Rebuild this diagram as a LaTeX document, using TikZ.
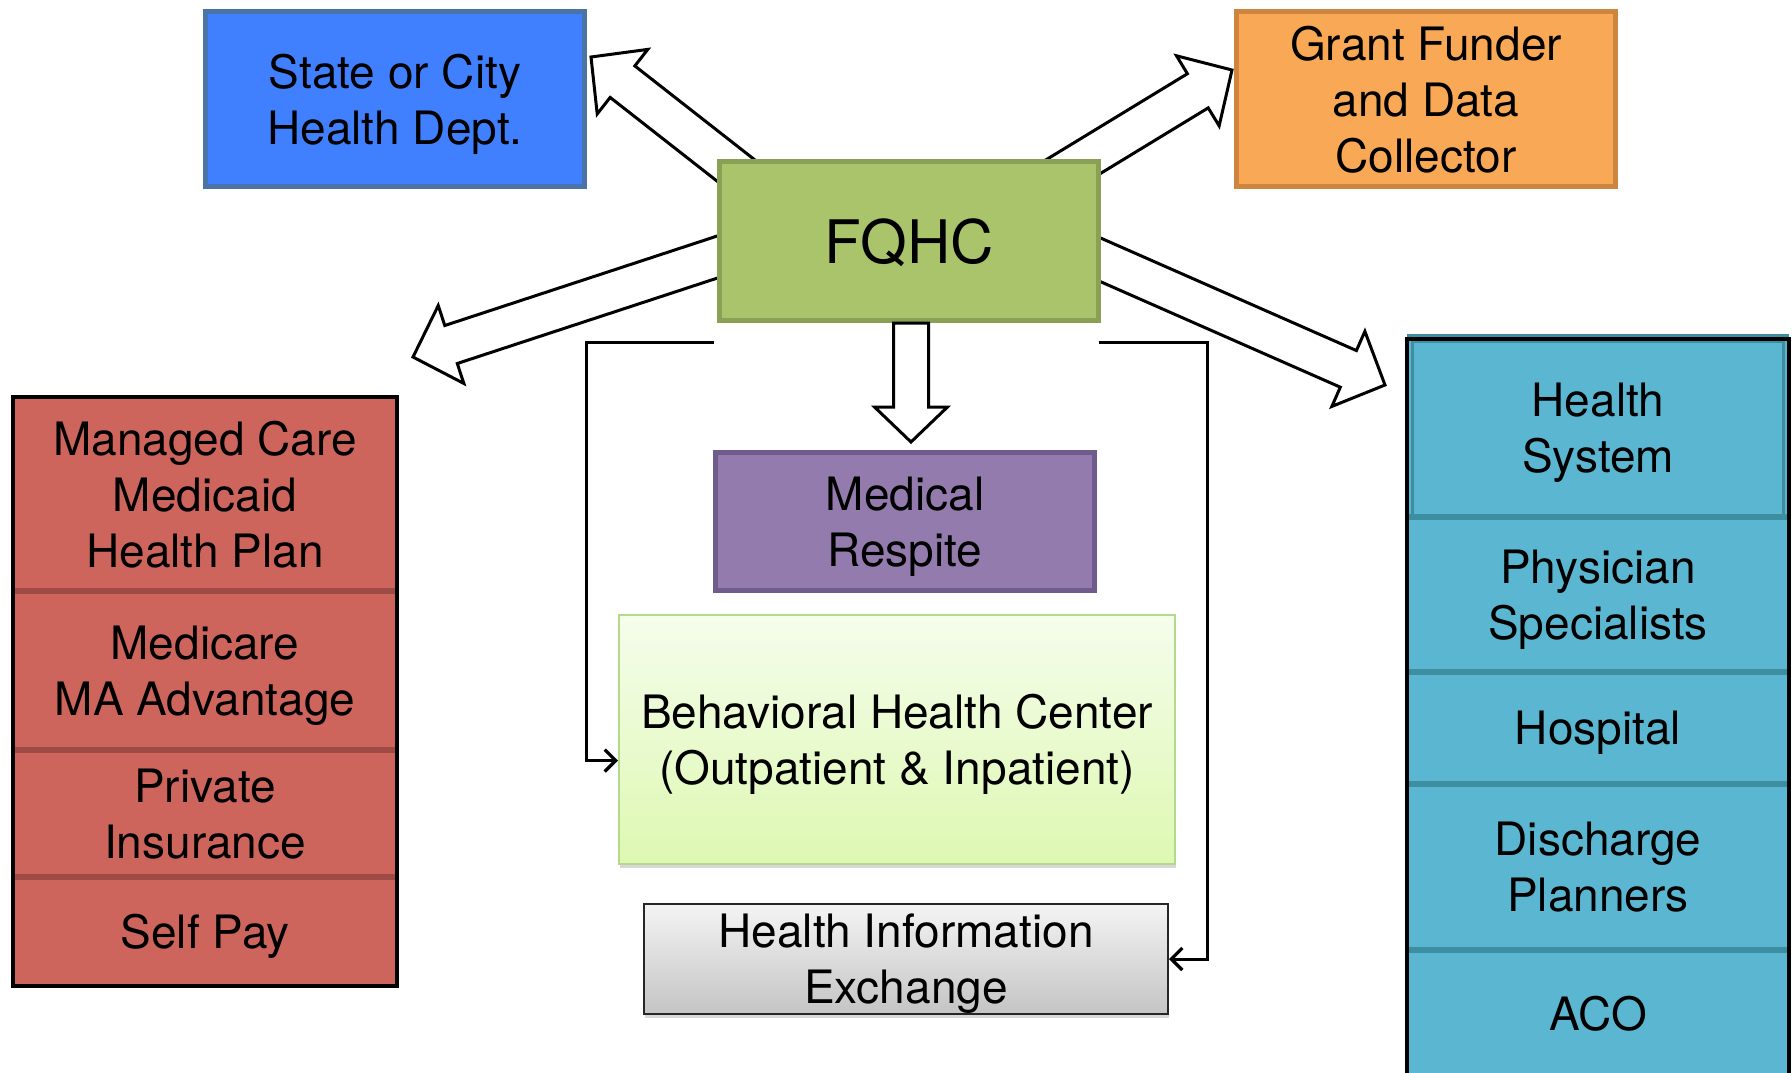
\documentclass[tikz,border=0pt]{standalone}
\usepackage{fontspec}
\setmainfont{TeX Gyre Heros}
\usetikzlibrary{calc,arrows.meta,shadows}

% palette
\definecolor{cBlue}{RGB}{64,128,255}
\definecolor{cBlueE}{RGB}{74,116,168}
\definecolor{cOrange}{RGB}{249,168,86}
\definecolor{cOrangeE}{RGB}{205,133,63}
\definecolor{cGreen}{RGB}{170,196,108}
\definecolor{cGreenE}{RGB}{137,160,85}
\definecolor{cPurple}{RGB}{147,123,174}
\definecolor{cPurpleE}{RGB}{111,92,140}
\definecolor{cRed}{RGB}{205,101,93}
\definecolor{cRedD}{RGB}{158,75,69}
\definecolor{cTeal}{RGB}{91,183,209}
\definecolor{cTealD}{RGB}{62,142,162}
\definecolor{cBhTop}{RGB}{245,253,236}
\definecolor{cBhBot}{RGB}{222,248,178}
\definecolor{cBhE}{RGB}{181,217,138}
\definecolor{cHieTop}{RGB}{244,244,244}
\definecolor{cHieBot}{RGB}{196,196,196}

\tikzset{
  lbl/.style={align=center, font=\fontsize{46}{56}\selectfont, text=black, inner sep=0pt,
    text depth=0pt},
  colbox/.style={lbl, rectangle, draw, line width=5pt},
  cell/.style={lbl, rectangle, inner sep=0pt, minimum width=382pt},
  blkarrow/.style={draw=black, fill=white, line width=3pt, line join=miter},
  link/.style={draw=black, line width=3pt,
    -{Straight Barb[length=11pt,width=22pt,line width=3.2pt]}},
  divider/.style={line width=6pt},
  outline/.style={draw=black, line width=4.5pt},
}

% wide hollow arrow from #1 towards tip #2; shaft half width #3, head half width #4, head length #5
\newcommand{\blockarrow}[5]{%
  \draw[blkarrow] let \p1=($(#2)-(#1)$), \n1={atan2(\y1,\x1)}, \n2={veclen(\x1,\y1)-#5} in
    ($(#1)+({\n1+90}:#3)$) -- ($(#1)+(\n1:\n2)+({\n1+90}:#3)$)
    -- ($(#1)+(\n1:\n2)+({\n1+90}:#4)$) -- (#2)
    -- ($(#1)+(\n1:\n2)+({\n1-90}:#4)$) -- ($(#1)+(\n1:\n2)+({\n1-90}:#3)$)
    -- ($(#1)+({\n1-90}:#3)$) -- cycle;}

\begin{document}
\begin{tikzpicture}[x=1pt,y=1pt]
\useasboundingbox (0,0) rectangle (1792,-1072);
\fill[white] (0,0) rectangle (1792,-1072);

% hollow arrows leaving the centre box
\coordinate (aBs) at (780,-205);  \coordinate (aBt) at (591,-57);
\coordinate (aOs) at (1025,-196); \coordinate (aOt) at (1232,-70);
\coordinate (aRs) at (760,-243);  \coordinate (aRt) at (413,-357);
\coordinate (aTs) at (1060,-242); \coordinate (aTt) at (1385,-385);
\blockarrow{aBs}{aBt}{20}{41}{40}
\blockarrow{aOs}{aOt}{20}{41}{40}
\blockarrow{aRs}{aRt}{20}{41}{40}
\blockarrow{aTs}{aTt}{20}{41}{40}

% top row
\node[colbox, fill=cBlue, draw=cBlueE, minimum width=379pt, minimum height=175pt]
  (state) at (395,-99) {State or City\\Health Dept.};
\node[colbox, fill=cOrange, draw=cOrangeE, minimum width=379pt, minimum height=175pt]
  (grant) at (1426,-99) {Grant Funder\\and Data\\Collector};
\node[colbox, fill=cGreen, draw=cGreenE, minimum width=379pt, minimum height=159pt,
  font=\fontsize{60}{72}\selectfont] (fqhc) at (909,-241) {FQHC};

% centre column
\node[colbox, fill=cPurple, draw=cPurpleE, minimum width=379pt, minimum height=138pt]
  (resp) at (905,-521.5) {Medical\\Respite};
\node[lbl, rectangle, draw=cBhE, line width=2pt, top color=cBhTop, bottom color=cBhBot,
  drop shadow={shadow xshift=1pt, shadow yshift=-4pt, opacity=0.3},
  minimum width=556pt, minimum height=249pt]
  (bhc) at (897,-739.5) {Behavioral Health Center\\(Outpatient \& Inpatient)};
\node[lbl, rectangle, draw=black!85, line width=2pt, top color=cHieTop, bottom color=cHieBot,
  drop shadow={shadow xshift=1pt, shadow yshift=-4pt, opacity=0.3},
  minimum width=524pt, minimum height=110pt]
  (hie) at (906,-959) {Health Information\\Exchange};

\coordinate (aDs) at (911,-323); \coordinate (aDt) at (911,-442);
\blockarrow{aDs}{aDt}{17.5}{36.5}{35}

% elbow links
\coordinate (lk1) at (714,-342);
\coordinate (lk2) at (1099,-342);
\draw[link] (lk1) -| ([xshift=-32pt,yshift=-21pt]bhc.west) -- ([yshift=-21pt]bhc.west);
\draw[link] (lk2) -| ([xshift=38pt]hie.east) -- (hie.east);

% payer stack
\node[cell, fill=cRed, minimum width=384pt, minimum height=194pt] (mc) at (205,-494)
  {Managed Care\\Medicaid\\Health Plan};
\node[cell, fill=cRed, minimum width=384pt, minimum height=159pt] (mcare) at (205,-670.5)
  {Medicare\\MA Advantage};
\node[cell, fill=cRed, minimum width=384pt, minimum height=127pt] (priv) at (205,-813.5)
  {Private\\Insurance};
\node[cell, fill=cRed, minimum width=384pt, minimum height=109pt] (self) at (205,-931.5)
  {Self Pay};
\draw[divider, cRedD] (mc.south west) -- (mc.south east);
\draw[divider, cRedD] (mcare.south west) -- (mcare.south east);
\draw[divider, cRedD] (priv.south west) -- (priv.south east);
\draw[outline] (mc.north west) rectangle (self.south east);

% provider stack
\node[cell, fill=cTeal, minimum height=178pt] (hs) at (1598,-428) {Health\\System};
\node[cell, fill=cTeal, minimum height=155pt] (phys) at (1598,-594.5) {Physician\\Specialists};
\node[cell, fill=cTeal, minimum height=112pt] (hosp) at (1598,-728) {Hospital};
\node[cell, fill=cTeal, minimum height=166pt] (dis) at (1598,-867) {Discharge\\Planners};
\node[cell, fill=cTeal, minimum height=126pt] (aco) at (1598,-1013) {ACO};
\fill[cTealD] ([yshift=5pt]hs.north west) rectangle (hs.north east);
\draw[cTealD, line width=3pt] ([xshift=6pt,yshift=-3pt]hs.north west) rectangle ([xshift=-6pt]hs.south east);
\draw[divider, cTealD] (hs.south west) -- (hs.south east);
\draw[divider, cTealD] (phys.south west) -- (phys.south east);
\draw[divider, cTealD] (hosp.south west) -- (hosp.south east);
\draw[divider, cTealD] (dis.south west) -- (dis.south east);
\draw[outline] (hs.north west) rectangle (aco.south east);
\end{tikzpicture}
\end{document}
